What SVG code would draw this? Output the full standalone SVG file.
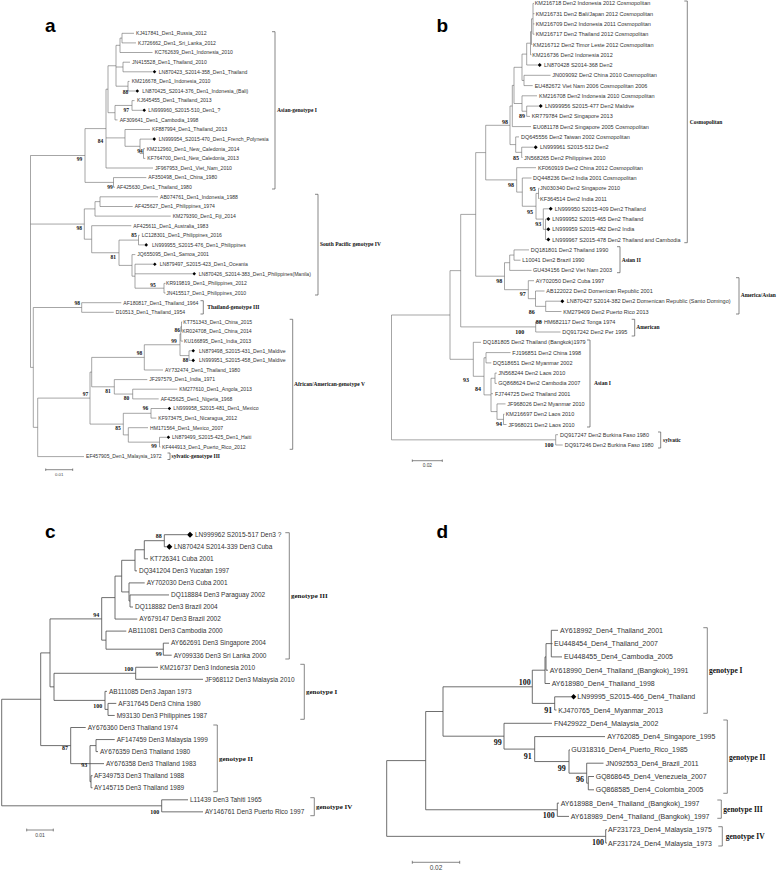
<svg xmlns="http://www.w3.org/2000/svg" xmlns:xlink="http://www.w3.org/1999/xlink" width="778" height="872" viewBox="0 0 778 872">
<style>
text{font-family:"Liberation Sans",Arial,sans-serif;fill:#333}
.ta{font-size:5.1px}.tb{font-size:5.5px}.tc{font-size:6.5px}.td{font-size:7px}
.bs{font-family:"Liberation Serif","Times New Roman",serif;font-weight:bold;fill:#111;text-anchor:end}
.ba{font-size:5.5px}.bb{font-size:6px}.bc{font-size:6px}.bd{font-size:8px}
.cl{font-family:"Liberation Serif","Times New Roman",serif;font-weight:bold;fill:#111}
.ca{font-size:5.5px}.cc{font-size:7px}.cd{font-size:7.5px}
.pl{font-family:"Liberation Sans",Arial,sans-serif;font-weight:bold;font-size:19px;fill:#000}
.sc{text-anchor:middle;fill:#444}
.tr{fill:none;stroke:#6a6a6a;stroke-width:.6}
.tr2{fill:none;stroke:#4a4a4a;stroke-width:.8}
.br{fill:none;stroke:#555;stroke-width:.7}
.dm{fill:#000}
</style>
<defs>
<path id="dA" d="M0-1.8L1.8 0 0 1.8-1.8 0Z"/>
<path id="dB" d="M0-2L2 0 0 2-2 0Z"/>
<path id="dC" d="M0-3L3 0 0 3-3 0Z"/>
<path id="dD" d="M0-2.7L2.7 0 0 2.7-2.7 0Z"/>
</defs>
<rect width="778" height="872" fill="#fff"/>

<!-- panel letters -->
<text class="pl" x="45" y="31.7">a</text>
<text class="pl" x="436.5" y="31.7">b</text>
<text class="pl" x="45" y="538.3">c</text>
<text class="pl" x="436.5" y="538.3">d</text>

<!-- connectors -->
<g id="connectors">
<path class="tr" d="M122 33.3V42.9M122 33.3H134M122 42.9H136M120 38.1V52.5M120 38.1H122M120 52.5H152.5M123 62.2V71.8M123 62.2H130M123 71.8H152.5M128 81.4V91M128 81.4H129.5M128 91H135.5M116 45.3V86.2M116 45.3H120M116 67H123M116 86.2H128M132 100.6V110.3M132 100.6H134.5M132 110.3H142.4M115 105.45V119.9M115 105.45H132M115 119.9H117.5M108 65.75V112.7M108 65.75H116M108 112.7H115M143.5 148.7V158.4M143.5 148.7H145M143.5 158.4H145.3M140 139.1V153.55M140 139.1H152.4M140 153.55H143.5M125 129.5V146.3M125 129.5H150M125 146.3H140M106 89.2V168M106 89.2H108M106 137.9H125M106 168H153M113.5 177.6V187.2M113.5 177.6H146.3M113.5 187.2H115M85 128.6V182.4M85 128.6H106M85 182.4H113.5M100 196.8V206.5M100 196.8H158M100 206.5H132.7M95 201.65V216.1M95 201.65H100M95 216.1H170.7M138.5 235.3V244.9M138.5 235.3H139.7M138.5 244.9H144.4M164 283.4V293M164 283.4H165.5M164 293H165.5M135 264.2V288.2M135 264.2H153M135 273.8H192.4M135 288.2H164M132 254.6V276.2M132 254.6H135.3M132 276.2H135M119 240.1V265.4M119 240.1H138.5M119 265.4H132M91.7 225.7V252.75M91.7 225.7H131.3M91.7 252.75H119M84.3 208.9V239.2M84.3 208.9H95M84.3 239.2H91.7M81.7 302.7V312.3M81.7 302.7H121.3M81.7 312.3H113.7M181.5 321.9V331.5M181.5 321.9H182.3M181.5 331.5H181.8M180.8 326.7V341.1M180.8 326.7H181.5M180.8 341.1H183M189 350.8V360.4M189 350.8H191.4M189 360.4H191.4M180 333.9V355.6M180 333.9H180.8M180 355.6H189M144.3 344.75V370M144.3 344.75H180M144.3 370H163M132.7 389.2V398.9M132.7 389.2H177.3M132.7 398.9H158.7M114.3 379.6V394.05M114.3 379.6H147.3M114.3 394.05H132.7M91.7 357.4V386.8M91.7 357.4H144.3M91.7 386.8H114.3M151 408.5V418.1M151 408.5H167.6M151 418.1H156.3M159.5 437.3V447M159.5 437.3H166.6M159.5 447H160.5M128.3 427.7V442.15M128.3 427.7H148M128.3 442.15H159.5M123.3 413.3V434.9M123.3 413.3H151M123.3 434.9H128.3M90 372.1V424.1M90 372.1H91.7M90 424.1H123.3M37.7 398.1V456.6M37.7 398.1H90M37.7 456.6H84M33.3 307.5V427.35M33.3 307.5H81.7M33.3 427.35H37.7M30.5 155.5V367.4M30.5 155.5H85M30.5 224.05H84.3M30.5 367.4H33.3"/>
<path class="tr" d="M533 3.4V34.2M533 3.4H534M533 13.7H534.5M533 23.9H534.5M533 34.2H534.5M531.5 18.8V44.5M531.5 18.8H533M531.5 44.5H532.3M530.5 31.65V54.8M530.5 31.65H531.5M530.5 54.8H531.5M526.7 43.2V65M526.7 43.2H530.5M526.7 65H537.7M524 75.3V85.6M524 75.3H550.5M524 85.6H532.7M522 54.1V80.45M522 54.1H526.7M522 80.45H524M526.7 106.1V116.4M526.7 106.1H538.7M526.7 116.4H530M522 95.8V111.25M522 95.8H537M522 111.25H526.7M514 67.3V103.5M514 67.3H522M514 103.5H522M512.3 85.4V126.6M512.3 85.4H514M512.3 126.6H531M521.7 147.2V157.5M521.7 147.2H533.7M521.7 157.5H522.5M515.7 136.9V152.35M515.7 136.9H519M515.7 152.35H521.7M510 106V144.6M510 106H512.3M510 144.6H515.7M538.5 188.3V198.5M538.5 188.3H539.5M538.5 198.5H539.5M545.5 219.1V239.6M545.5 219.1H546.3M545.5 229.3H546.3M545.5 239.6H546.3M543.3 208.8V229.35M543.3 208.8H548.7M543.3 229.35H545.5M536 193.4V219.1M536 193.4H538.5M536 219.1H543.3M522.3 178V206.25M522.3 178H531.5M522.3 206.25H536M516.7 167.7V192.1M516.7 167.7H536M516.7 192.1H522.3M485.7 125.3V179.9M485.7 125.3H510M485.7 179.9H516.7M514 249.9V260.2M514 249.9H529M514 260.2H520.5M509.7 255.05V270.4M509.7 255.05H514M509.7 270.4H531.5M545.7 301.2V311.5M545.7 301.2H560.3M545.7 311.5H561.5M535.5 291V306.35M535.5 291H544.5M535.5 306.35H545.7M528.3 280.7V298.7M528.3 280.7H534M528.3 298.7H535.5M504.5 262.7V289.7M504.5 262.7H509.7M504.5 289.7H528.3M475.7 152.6V276.2M475.7 152.6H485.7M475.7 276.2H504.5M535.7 321.8V332M535.7 321.8H542.3M535.7 332H560.5M460.7 214.4V326.9M460.7 214.4H475.7M460.7 326.9H535.7M486 352.6V362.9M486 352.6H510.5M486 362.9H491.3M495 373.1V383.4M495 373.1H496.8M495 383.4H496.8M503.5 414.2V424.5M503.5 414.2H504.5M503.5 424.5H506.5M497 403.9V419.35M497 403.9H505.5M497 419.35H503.5M491 378.25V411.6M491 378.25H495M491 393.7H493M491 411.6H497M484 357.75V394.9M484 357.75H486M484 394.9H491M473.3 342.3V376.3M473.3 342.3H481M473.3 376.3H484M450 270.65V359.3M450 270.65H460.7M450 359.3H473.3M555.7 434.7V445M555.7 434.7H558M555.7 445H562.7M391.5 315V439.85M391.5 315H450M391.5 439.85H555.7"/>
<path class="tr2" d="M164.3 534.7V546.75M164.3 534.7H187M164.3 546.75H166.3M144.3 540.7V558.8M144.3 540.7H164.3M144.3 558.8H148M135 549.75V570.85M135 549.75H144.3M135 570.85H137M130 594.95V607M130 594.95H169M130 607H133M129 582.9V601M129 582.9H144.7M129 601H130M121.7 560.3V591.95M121.7 560.3H135M121.7 591.95H129M115 576.1V619.05M115 576.1H121.7M115 619.05H137.3M163.3 643.15V655.2M163.3 643.15H169M163.3 655.2H171.7M106 631.1V649.2M106 631.1H126.3M106 649.2H163.3M101.7 597.6V640.15M101.7 597.6H115M101.7 640.15H106M135.7 667.25V679.3M135.7 667.25H158M135.7 679.3H203M108 703.4V715.45M108 703.4H116.3M108 715.45H114.7M105 691.35V709.4M105 691.35H107M105 709.4H108M54 673.3V700.4M54 673.3H135.7M54 700.4H105M50 618.9V686.85M50 618.9H101.7M50 686.85H54M96 739.55V751.6M96 739.55H114.7M96 751.6H98M91 775.7V787.75M91 775.7H92.5M91 787.75H92.5M90 745.6V781.7M90 745.6H96M90 763.65H104M90 781.7H91M70.7 727.5V763.65M70.7 727.5H85.7M70.7 763.65H90M40.7 652.9V745.6M40.7 652.9H50M40.7 745.6H70.7M161.7 799.8V811.85M161.7 799.8H188M161.7 811.85H203M1.7 699.25V805.8M1.7 699.25H40.7M1.7 805.8H161.7"/>
<path class="tr2" d="M551.3 630.3V656.9M551.3 630.3H558M551.3 643.6H552.5M551.3 656.9H562M546 643.6V670.2M546 643.6H551.3M546 670.2H548M545 656.9V683.5M545 656.9H546M545 683.5H550M554.7 696.8V710M554.7 696.8H571M554.7 710H556.5M532.3 670.2V703.4M532.3 670.2H545M532.3 703.4H554.7M588.3 776.5V789.8M588.3 776.5H594M588.3 789.8H594M586.7 763.2V783.15M586.7 763.2H603.5M586.7 783.15H588.3M569 749.9V773.2M569 749.9H570M569 773.2H586.7M534.7 736.6V761.55M534.7 736.6H605M534.7 761.55H569M504 723.3V749.1M504 723.3H552M504 749.1H534.7M443 686.8V736.2M443 686.8H532.3M443 736.2H504M557.3 803.1V816.4M557.3 803.1H559M557.3 816.4H569M425.7 711.5V809.75M425.7 711.5H443M425.7 809.75H557.3M605.7 829.7V843M605.7 829.7H607M605.7 843H607M386.7 760.6V836.35M386.7 760.6H425.7M386.7 836.35H605.7"/>
</g>

<!-- panel a leaves -->
<g id="panel-a-leaves" class="ta">
<g id="a0"><text class="ta" x="136" y="35.1">KJ417841_Den1_Russia_2012</text></g>
<g id="a1"><text class="ta" x="138" y="44.7">KJ726662_Den1_Sri_Lanka_2012</text></g>
<g id="a2"><text class="ta" x="154.7" y="54.3">KC762639_Den1_Indonesia_2010</text></g>
<g id="a3"><text class="ta" x="132" y="64">JN415528_Den1_Thailand_2010</text></g>
<g id="a4"><use href="#dA" class="dm" x="154.5" y="71.8"/><text class="ta" x="158.7" y="73.6">LN870423_S2014-358_Den1_Thailand</text></g>
<g id="a5"><text class="ta" x="131.7" y="83.2">KM216678_Den1_Indonesia_2010</text></g>
<g id="a6"><use href="#dA" class="dm" x="137.3" y="91"/><text class="ta" x="142.3" y="92.8">LN870425_S2014-376_Den1_Indonesia_(Bali)</text></g>
<g id="a7"><text class="ta" x="137" y="102.4">KJ645455_Den1_Thailand_2013</text></g>
<g id="a8"><use href="#dA" class="dm" x="144.2" y="110.3"/><text class="ta" x="148.3" y="112.1">LN999960_S2015-510_Den1_?</text></g>
<g id="a9"><text class="ta" x="119.7" y="121.7">AF309641_Den1_Cambodia_1998</text></g>
<g id="a10"><text class="ta" x="152" y="131.3">KF887994_Den1_Thailand_2013</text></g>
<g id="a11"><use href="#dA" class="dm" x="154.2" y="139.1"/><text class="ta" x="158.7" y="140.9">LN999954_S2015-470_Den1_French_Polynesia</text></g>
<g id="a12"><text class="ta" x="146.7" y="150.5">KM212960_Den1_New_Caledonia_2014</text></g>
<g id="a13"><text class="ta" x="147.3" y="160.2">KF764700_Den1_New_Caledonia_2013</text></g>
<g id="a14"><text class="ta" x="155" y="169.8">JF967953_Den1_Viet_Nam_2010</text></g>
<g id="a15"><text class="ta" x="148.3" y="179.4">AF350498_Den1_China_1980</text></g>
<g id="a16"><text class="ta" x="116.7" y="189">AF425630_Den1_Thailand_1980</text></g>
<g id="a17"><text class="ta" x="160" y="198.6">AB074761_Den1_Indonesia_1988</text></g>
<g id="a18"><text class="ta" x="134.7" y="208.3">AF425627_Den1_Philippines_1974</text></g>
<g id="a19"><text class="ta" x="172.7" y="217.9">KM279390_Den1_Fiji_2014</text></g>
<g id="a20"><text class="ta" x="133.3" y="227.5">AF425611_Den1_Australia_1983</text></g>
<g id="a21"><text class="ta" x="141.7" y="237.1">LC128301_Den1_Philippines_2016</text></g>
<g id="a22"><use href="#dA" class="dm" x="146.2" y="244.9"/><text class="ta" x="152" y="246.7">LN999955_S2015-476_Den1_Philippines</text></g>
<g id="a23"><text class="ta" x="137.3" y="256.4">JQ655095_Den1_Samoa_2001</text></g>
<g id="a24"><use href="#dA" class="dm" x="154.8" y="264.2"/><text class="ta" x="159.7" y="266">LN879497_S2015-423_Den1_Oceania</text></g>
<g id="a25"><use href="#dA" class="dm" x="194.2" y="273.8"/><text class="ta" x="198.7" y="275.6">LN870426_S2014-383_Den1_Philippines(Manila)</text></g>
<g id="a26"><text class="ta" x="166" y="285.2">KR919819_Den1_Philippines_2012</text></g>
<g id="a27"><text class="ta" x="166.3" y="294.8">JN415517_Den1_Philippines_2010</text></g>
<g id="a28"><text class="ta" x="123.3" y="304.5">AF180817_Den1_Thailand_1964</text></g>
<g id="a29"><text class="ta" x="115.7" y="314.1">D10513_Den1_Thailand_1954</text></g>
<g id="a30"><text class="ta" x="183.3" y="323.7">KT751343_Den1_China_2015</text></g>
<g id="a31"><text class="ta" x="182.3" y="333.3">KR024708_Den1_China_2014</text></g>
<g id="a32"><text class="ta" x="184" y="342.9">KU166895_Den1_India_2013</text></g>
<g id="a33"><use href="#dA" class="dm" x="193.2" y="350.8"/><text class="ta" x="199" y="352.6">LN879498_S2015-431_Den1_Maldive</text></g>
<g id="a34"><use href="#dA" class="dm" x="193.2" y="360.4"/><text class="ta" x="199" y="362.2">LN999951_S2015-458_Den1_Maldive</text></g>
<g id="a35"><text class="ta" x="165" y="371.8">AY732474_Den1_Thailand_1980</text></g>
<g id="a36"><text class="ta" x="149.3" y="381.4">JF297579_Den1_India_1971</text></g>
<g id="a37"><text class="ta" x="179.3" y="391">KM277610_Den1_Angola_2013</text></g>
<g id="a38"><text class="ta" x="160.7" y="400.7">AF425625_Den1_Nigeria_1968</text></g>
<g id="a39"><use href="#dA" class="dm" x="169.4" y="408.5"/><text class="ta" x="173.3" y="410.3">LN999958_S2015-481_Den1_Mexico</text></g>
<g id="a40"><text class="ta" x="158.3" y="419.9">KF973475_Den1_Nicaragua_2012</text></g>
<g id="a41"><text class="ta" x="150" y="429.5">HM171564_Den1_Mexico_2007</text></g>
<g id="a42"><use href="#dA" class="dm" x="168.4" y="437.3"/><text class="ta" x="172" y="439.1">LN879499_S2015-425_Den1_Haiti</text></g>
<g id="a43"><text class="ta" x="162" y="448.8">KF444913_Den1_Puerto_Rico_2012</text></g>
<g id="a44"><text class="ta" x="86" y="458.4">EF457905_Den1_Malaysia_1972</text></g>
</g>
<g id="panel-a-support">
<text class="bs ba" x="128.3" y="93.6">88</text><text class="bs ba" x="129" y="111.9">97</text><text class="bs ba" x="103.3" y="142.6">84</text><text class="bs ba" x="142.7" y="152.9">94</text><text class="bs ba" x="82.3" y="161.2">99</text><text class="bs ba" x="112.7" y="188.6">99</text><text class="bs ba" x="82" y="230.2">98</text><text class="bs ba" x="136.7" y="236.9">85</text><text class="bs ba" x="116" y="258.6">81</text><text class="bs ba" x="155.7" y="287.2">95</text><text class="bs ba" x="80" y="305.2">98</text><text class="bs ba" x="180" y="331.9">86</text><text class="bs ba" x="176.7" y="342.6">99</text><text class="bs ba" x="188.3" y="361.9">88</text><text class="bs ba" x="142.3" y="355.2">98</text><text class="bs ba" x="110.7" y="392.6">81</text><text class="bs ba" x="88.3" y="395.9">97</text><text class="bs ba" x="129.3" y="399.9">80</text><text class="bs ba" x="148.3" y="409.9">96</text><text class="bs ba" x="120.7" y="430.2">85</text><text class="bs ba" x="156.7" y="448.2">99</text>
</g>
<g id="a-clade-asian1"><path class="br" d="M272 31.7H275V189H272"/><text class="cl ca" x="277" y="111.9">Asian-genotype I</text></g>
<g id="a-clade-sp4"><path class="br" d="M315 194.3H318V295H315"/><text class="cl ca" x="320" y="246.2">South Pacific genotype IV</text></g>
<g id="a-clade-th2"><path class="br" d="M200.5 300.7H203.3V314H200.5"/><text class="cl ca" x="207.3" y="308.6">Thailand-genotype III</text></g>
<g id="a-clade-aa5"><path class="br" d="M289.7 319.3H292.7V449.3H289.7"/><text class="cl ca" x="294" y="386.2">African/American-genotype V</text></g>
<g id="a-clade-syl3"><path class="br" d="M167.5 453H170V459.5H167.5"/><text class="cl ca" x="171.5" y="457.9">sylvatic-genotype III</text></g>
<g id="a-scale"><path class="br" d="M45.7 469.7H72.7M45.7 468.5V470.9M72.7 468.5V470.9"/><text class="sc" x="59.2" y="475.5" style="font-size:4.3px">0.01</text></g>

<!-- panel b leaves -->
<g id="panel-b-leaves">
<g id="b0"><text class="tb" x="534.7" y="5.4">KM216718 Den2 Indonesia 2012 Cosmopolitan</text></g>
<g id="b1"><text class="tb" x="535.7" y="15.7">KM216731 Den2 Bali/Japan 2012 Cosmopolitan</text></g>
<g id="b2"><text class="tb" x="535.7" y="25.9">KM216709 Den2 Indonesia 2011 Cosmopolitan</text></g>
<g id="b3"><text class="tb" x="535.7" y="36.2">KM216717 Den2 Thailand 2012 Cosmopolitan</text></g>
<g id="b4"><text class="tb" x="533" y="46.5">KM216712 Den2 Timor Leste 2012 Cosmopolitan</text></g>
<g id="b5"><text class="tb" x="532.3" y="56.8">KM216736 Den2 Indonesia 2012</text></g>
<g id="b6"><use href="#dB" class="dm" x="539.7" y="65"/><text class="tb" x="544" y="67">LN870428 S2014-368 Den2</text></g>
<g id="b7"><text class="tb" x="552.3" y="77.3">JN009092 Den2 China 2010 Cosmopolitan</text></g>
<g id="b8"><text class="tb" x="534.7" y="87.6">EU482672 Viet Nam 2006 Cosmopolitan 2006</text></g>
<g id="b9"><text class="tb" x="539" y="97.8">KM216708 Den2 Indonesia 2010 Cosmopolitan</text></g>
<g id="b10"><use href="#dB" class="dm" x="540.7" y="106.1"/><text class="tb" x="545" y="108.1">LN999956 S2015-477 Den2 Maldive</text></g>
<g id="b11"><text class="tb" x="531.7" y="118.4">KR779784 Den2 Singapore 2013</text></g>
<g id="b12"><text class="tb" x="533" y="128.6">EU081178 Den2 Singapore 2005 Cosmopolitan</text></g>
<g id="b13"><text class="tb" x="521" y="138.9">DQ645556 Den2 Taiwan 2002 Cosmopolitan</text></g>
<g id="b14"><use href="#dB" class="dm" x="535.7" y="147.2"/><text class="tb" x="540" y="149.2">LN999961 S2015-512 Den2</text></g>
<g id="b15"><text class="tb" x="524" y="159.5">JN568265 Den2 Philippines 2010</text></g>
<g id="b16"><text class="tb" x="538" y="169.7">KF060919 Den2 China 2012 Cosmopolitan</text></g>
<g id="b17"><text class="tb" x="533" y="180">DQ448236 Den2 India 2001 Cosmopolitan</text></g>
<g id="b18"><text class="tb" x="540" y="190.3">JN030340 Den2 Singapore 2010</text></g>
<g id="b19"><text class="tb" x="540" y="200.5">KF364514 Den2 India 2011</text></g>
<g id="b20"><use href="#dB" class="dm" x="550.7" y="208.8"/><text class="tb" x="554.7" y="210.8">LN999950 S2015-409 Den2 Thailand</text></g>
<g id="b21"><use href="#dB" class="dm" x="548.3" y="219.1"/><text class="tb" x="552.3" y="221.1">LN999952 S2015-465 Den2 Thailand</text></g>
<g id="b22"><use href="#dB" class="dm" x="548.3" y="229.3"/><text class="tb" x="552.3" y="231.3">LN999959 S2015-482 Den2 India</text></g>
<g id="b23"><use href="#dB" class="dm" x="548.3" y="239.6"/><text class="tb" x="552.3" y="241.6">LN999967 S2015-478 Den2 Thailand and Cambodia</text></g>
<g id="b24"><text class="tb" x="530.7" y="251.9">DQ181801 Den2 Thailand 1990</text></g>
<g id="b25"><text class="tb" x="522.3" y="262.2">L10041 Den2 Brazil 1990</text></g>
<g id="b26"><text class="tb" x="533" y="272.4">GU434156 Den2 Viet Nam 2003</text></g>
<g id="b27"><text class="tb" x="535.7" y="282.7">AY702050 Den2 Cuba 1997</text></g>
<g id="b28"><text class="tb" x="546.3" y="293">AB122022 Den2 Domenican Republic 2001</text></g>
<g id="b29"><use href="#dB" class="dm" x="562.3" y="301.2"/><text class="tb" x="566.7" y="303.2">LN870427 S2014-382 Den2 Domenican Republic (Santo Domingo)</text></g>
<g id="b30"><text class="tb" x="563.3" y="313.5">KM279409 Den2 Puerto Rico 2013</text></g>
<g id="b31"><text class="tb" x="544" y="323.8">HM682117 Den2 Tonga 1974</text></g>
<g id="b32"><text class="tb" x="562.3" y="334">DQ917242 Den2 Per 1995</text></g>
<g id="b33"><text class="tb" x="483" y="344.3">DQ181805 Den2 Thailand (Bangkok)1979</text></g>
<g id="b34"><text class="tb" x="512.3" y="354.6">FJ196851 Den2 China 1998</text></g>
<g id="b35"><text class="tb" x="493" y="364.9">DQ518651 Den2 Myanmar 2002</text></g>
<g id="b36"><text class="tb" x="498.3" y="375.1">JN568244 Den2 Laos 2010</text></g>
<g id="b37"><text class="tb" x="498.3" y="385.4">GQ868624 Den2 Cambodia 2007</text></g>
<g id="b38"><text class="tb" x="495" y="395.7">FJ744725 Den2 Thailand 2001</text></g>
<g id="b39"><text class="tb" x="507.3" y="405.9">JF968026 Den2 Myanmar 2010</text></g>
<g id="b40"><text class="tb" x="505.7" y="416.2">KM216697 Den2 Laos 2010</text></g>
<g id="b41"><text class="tb" x="508.3" y="426.5">JF968021 Den2 Laos 2010</text></g>
<g id="b42"><text class="tb" x="560" y="436.7">DQ917247 Den2 Burkina Faso 1980</text></g>
<g id="b43"><text class="tb" x="564.7" y="447">DQ917246 Den2 Burkina Faso 1980</text></g>
</g>
<g id="panel-b-support">
<text class="bs bb" x="508" y="123.6">98</text><text class="bs bb" x="525" y="117.9">89</text><text class="bs bb" x="519" y="159.6">85</text><text class="bs bb" x="514" y="186.9">98</text><text class="bs bb" x="535.7" y="190.6">95</text><text class="bs bb" x="533" y="213.6">95</text><text class="bs bb" x="541.3" y="226.2">93</text><text class="bs bb" x="502.3" y="282.9">98</text><text class="bs bb" x="525.7" y="295.6">97</text><text class="bs bb" x="534.7" y="313.6">86</text><text class="bs bb" x="541.7" y="323.9">88</text><text class="bs bb" x="524.3" y="333.9">100</text><text class="bs bb" x="469" y="381.9">93</text><text class="bs bb" x="481" y="390.6">84</text><text class="bs bb" x="502" y="425.9">94</text><text class="bs bb" x="553.5" y="446.9">100</text>
</g>
<g id="b-clade-cosmo"><path class="br" d="M684.3 1H687.3V242.7H684.3"/><text class="cl ca" x="689.7" y="123.6">Cosmopolitan</text></g>
<g id="b-clade-asian2"><path class="br" d="M617 246.7H620V272.7H617"/><text class="cl ca" x="621.7" y="261.6">Asian II</text></g>
<g id="b-clade-amas"><path class="br" d="M736 277.7H739V314H736"/><text class="cl ca" x="740.7" y="296.9">America/Asian</text></g>
<g id="b-clade-amer"><path class="br" d="M631.7 319.3H634.7V336H631.7"/><text class="cl ca" x="636.3" y="328.9">American</text></g>
<g id="b-clade-asian1"><path class="br" d="M587 340H590V427H587"/><text class="cl ca" x="594" y="384.9">Asian I</text></g>
<g id="b-clade-syl"><path class="br" d="M658 432H660.7V448H658"/><text class="cl ca" x="663" y="441.9">sylvatic</text></g>
<g id="b-scale"><path class="br" d="M412.3 460.7H442.3M412.3 459.5V461.9M442.3 459.5V461.9"/><text class="sc" x="427.3" y="466.5" style="font-size:4.8px">0.02</text></g>

<!-- panel c leaves -->
<g id="panel-c-leaves">
<g id="c0"><use href="#dC" class="dm" x="190" y="534.7"/><text class="tc" x="195" y="537">LN999962 S2015-517 Den3 ?</text></g>
<g id="c1"><use href="#dC" class="dm" x="169.3" y="546.75"/><text class="tc" x="174" y="549.05">LN870424 S2014-339 Den3 Cuba</text></g>
<g id="c2"><text class="tc" x="150" y="561.1">KT726341 Cuba 2001</text></g>
<g id="c3"><text class="tc" x="139" y="573.15">DQ341204 Den3 Yucatan 1997</text></g>
<g id="c4"><text class="tc" x="146.7" y="585.2">AY702030 Den3 Cuba 2001</text></g>
<g id="c5"><text class="tc" x="171" y="597.25">DQ118884 Den3 Paraguay 2002</text></g>
<g id="c6"><text class="tc" x="135" y="609.3">DQ118882 Den3 Brazil 2004</text></g>
<g id="c7"><text class="tc" x="139.3" y="621.35">AY679147 Den3 Brazil 2002</text></g>
<g id="c8"><text class="tc" x="128.3" y="633.4">AB111081 Den3 Cambodia 2000</text></g>
<g id="c9"><text class="tc" x="171" y="645.45">AY662691 Den3 Singapore 2004</text></g>
<g id="c10"><text class="tc" x="173.7" y="657.5">AY099336 Den3 Sri Lanka 2000</text></g>
<g id="c11"><text class="tc" x="160" y="669.55">KM216737 Den3 Indonesia 2010</text></g>
<g id="c12"><text class="tc" x="205" y="681.6">JF968112 Den3 Malaysia 2010</text></g>
<g id="c13"><text class="tc" x="109" y="693.65">AB111085 Den3 Japan 1973</text></g>
<g id="c14"><text class="tc" x="118.3" y="705.7">AF317645 Den3 China 1980</text></g>
<g id="c15"><text class="tc" x="116.7" y="717.75">M93130 Den3 Philippines 1987</text></g>
<g id="c16"><text class="tc" x="87.7" y="729.8">AY676360 Den3 Thailand 1974</text></g>
<g id="c17"><text class="tc" x="116.7" y="741.85">AF147459 Den3 Malaysia 1999</text></g>
<g id="c18"><text class="tc" x="100" y="753.9">AY676359 Den3 Thailand 1980</text></g>
<g id="c19"><text class="tc" x="106" y="765.95">AY676358 Den3 Thailand 1983</text></g>
<g id="c20"><text class="tc" x="94" y="778">AF349753 Den3 Thailand 1988</text></g>
<g id="c21"><text class="tc" x="94" y="790.05">AY145715 Den3 Thailand 1989</text></g>
<g id="c22"><text class="tc" x="190" y="802.1">L11439 Den3 Tahiti 1965</text></g>
<g id="c23"><text class="tc" x="205" y="814.15">AY146761 Den3 Puerto Rico 1997</text></g>
</g>
<g id="panel-c-support">
<text class="bs bc" x="161.7" y="537.9">88</text><text class="bs bc" x="99.3" y="616.9">94</text><text class="bs bc" x="161.7" y="656.2">99</text><text class="bs bc" x="133.3" y="670.9">100</text><text class="bs bc" x="102.3" y="707.6">100</text><text class="bs bc" x="68" y="750.2">87</text><text class="bs bc" x="87.3" y="766.9">93</text><text class="bs bc" x="159.3" y="813.9">100</text>
</g>
<g id="c-clade-g3"><path class="br" d="M285.3 532.7H289.3V659H285.3"/><text class="cl cc" x="291" y="598.1">genotype III</text></g>
<g id="c-clade-g1"><path class="br" d="M300.3 664.3H304.3V719.3H300.3"/><text class="cl cc" x="306" y="694.4">genotype I</text></g>
<g id="c-clade-g2"><path class="br" d="M213.3 725H217.3V791.7H213.3"/><text class="cl cc" x="219" y="760.7">genotype II</text></g>
<g id="c-clade-g4"><path class="br" d="M310.3 797.7H314.3V815.7H310.3"/><text class="cl cc" x="316" y="808.7">genotype IV</text></g>
<g id="c-scale"><path class="br" d="M26.7 830H53.3M26.7 828.6V831.4M53.3 828.6V831.4"/><text class="sc" x="40" y="837" style="font-size:5px">0.01</text></g>

<!-- panel d leaves -->
<g id="panel-d-leaves">
<g id="d0"><text class="td" x="560" y="632.8">AY618992_Den4_Thailand_2001</text></g>
<g id="d1"><text class="td" x="554" y="646.1">EU448454_Den4_Thailand_2007</text></g>
<g id="d2"><text class="td" x="564" y="659.4">EU448455_Den4_Cambodia_2005</text></g>
<g id="d3"><text class="td" x="549.7" y="672.7">AY618990_Den4_Thailand_(Bangkok)_1991</text></g>
<g id="d4"><text class="td" x="551.7" y="686">AY618980_Den4_Thailand_1998</text></g>
<g id="d5"><use href="#dD" class="dm" x="573.6" y="696.8"/><text class="td" x="577.3" y="699.3">LN99995_S2015-466_Den4_Thailand</text></g>
<g id="d6"><text class="td" x="558.3" y="712.5">KJ470765_Den4_Myanmar_2013</text></g>
<g id="d7"><text class="td" x="554" y="725.8">FN429922_Den4_Malaysia_2002</text></g>
<g id="d8"><text class="td" x="607.3" y="739.1">AY762085_Den4_Singapore_1995</text></g>
<g id="d9"><text class="td" x="571.3" y="752.4">GU318316_Den4_Puerto_Rico_1985</text></g>
<g id="d10"><text class="td" x="605.7" y="765.7">JN092553_Den4_Brazil_2011</text></g>
<g id="d11"><text class="td" x="595.7" y="779">GQ868645_Den4_Venezuela_2007</text></g>
<g id="d12"><text class="td" x="595.7" y="792.3">GQ868585_Den4_Colombia_2005</text></g>
<g id="d13"><text class="td" x="560.7" y="805.6">AY618988_Den4_Thailand_(Bangkok)_1997</text></g>
<g id="d14"><text class="td" x="570.7" y="818.9">AY618989_Den4_Thailand_(Bangkok)_1997</text></g>
<g id="d15"><text class="td" x="608" y="832.2">AF231723_Den4_Malaysia_1975</text></g>
<g id="d16"><text class="td" x="608" y="845.5">AF231724_Den4_Malaysia_1973</text></g>
</g>
<g id="panel-d-support">
<text class="bs bd" x="530.7" y="685.4">100</text><text class="bs bd" x="552.3" y="712.7">91</text><text class="bs bd" x="501.7" y="745.4">99</text><text class="bs bd" x="531.7" y="758.7">91</text><text class="bs bd" x="565.7" y="771">99</text><text class="bs bd" x="584" y="782">96</text><text class="bs bd" x="554.7" y="818.4">100</text><text class="bs bd" x="604" y="845.4">100</text>
</g>
<g id="d-clade-g1"><path class="br" d="M703.3 627.7H707.3V713.3H703.3"/><text class="cl cd" x="709" y="673.2">genotype I</text></g>
<g id="d-clade-g2"><path class="br" d="M723.3 720H727.3V793.3H723.3"/><text class="cl cd" x="729" y="759.8">genotype II</text></g>
<g id="d-clade-g3"><path class="br" d="M717.3 800H721.3V818.3H717.3"/><text class="cl cd" x="723.3" y="811.8">genotype III</text></g>
<g id="d-clade-g4"><path class="br" d="M718.3 826.7H722.3V846H718.3"/><text class="cl cd" x="725.7" y="839.2">genotype IV</text></g>
<g id="d-scale"><path class="br" d="M412.3 862.3H459.7M412.3 860.8V863.8M459.7 860.8V863.8"/><text class="sc" x="436" y="869.5" style="font-size:6.5px">0.02</text></g>
</svg>
